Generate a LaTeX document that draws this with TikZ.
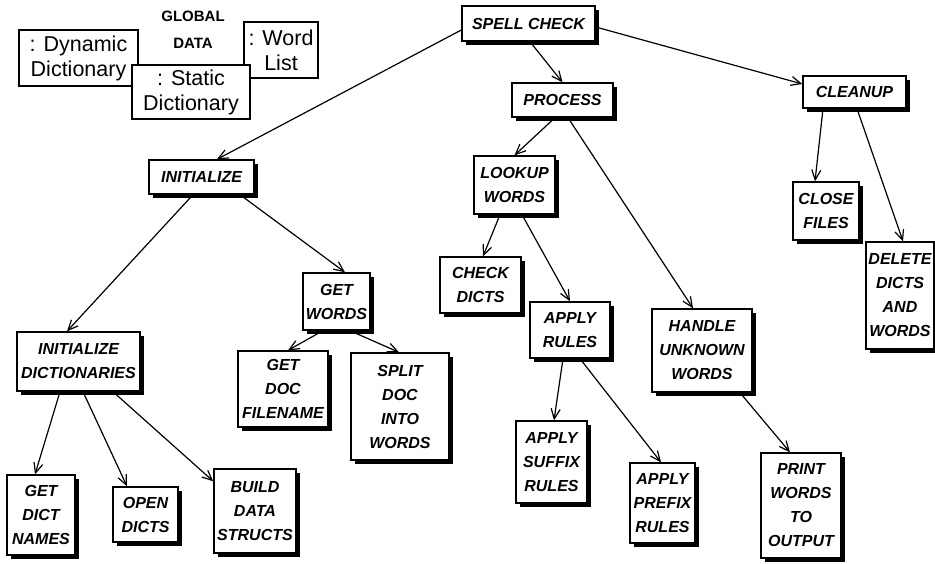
\documentclass[tikz,border=0pt]{standalone}
\usepackage{fontspec}
\setmainfont{Liberation Sans}
\usetikzlibrary{shadows,calc,arrows.meta,backgrounds}
\newcommand\procfont{\fontsize{16}{24}\selectfont\bfseries\itshape}
\newcommand\gfont{\fontsize{21.5}{25}\selectfont}
\tikzset{
  proc/.style={draw, line width=1.4pt, fill=white, inner sep=0pt, align=center, font=\procfont,
    drop shadow={shadow xshift=4pt, shadow yshift=-4pt, fill=black, opacity=1}},
  gbox/.style={draw, line width=1.4pt, fill=white, inner sep=0pt, align=center, font=\gfont},
  glabel/.style={inner sep=0pt, font=\fontsize{15}{16}\selectfont\bfseries},
  arr/.style={line width=1.2pt, -{Straight Barb[length=10pt,width=9pt]}}
}
\begin{document}
\begin{tikzpicture}[x=1pt,y=-1pt]
\useasboundingbox (0,0) rectangle (935,563);
% global data
\node[glabel] (glob) at (193,16) {GLOBAL};
\node[glabel] (gdata) at (193,43) {DATA};
\node[gbox, minimum width=119pt, minimum height=56pt] (dyn) at (78.5,58) {: Dynamic\\Dictionary};
\node[gbox, minimum width=74pt, minimum height=56pt] (wl) at (281,50) {: Word\\List};
\node[gbox, minimum width=118pt, minimum height=54pt] (stat) at (191,92) {: Static\\Dictionary};
% process boxes
\node[proc, minimum width=133pt, minimum height=35pt] (spell) at (528.5,23.5) {SPELL CHECK};
\node[proc, minimum width=101pt, minimum height=34pt] (process) at (562.5,100) {PROCESS};
\node[proc, minimum width=103pt, minimum height=32pt] (cleanup) at (854.5,92) {CLEANUP};
\node[proc, minimum width=105pt, minimum height=34pt] (init) at (201.5,177) {INITIALIZE};
\node[proc, minimum width=123pt, minimum height=59pt] (initdict) at (78.5,361.5) {INITIALIZE\\DICTIONARIES};
\node[proc, minimum width=68pt, minimum height=80pt] (getdict) at (41,515) {GET\\DICT\\NAMES};
\node[proc, minimum width=65pt, minimum height=55pt] (open) at (145.5,514.5) {OPEN\\DICTS};
\node[proc, minimum width=82pt, minimum height=84pt] (build) at (255,511) {BUILD\\DATA\\STRUCTS};
\node[proc, minimum width=67pt, minimum height=57pt] (getwords) at (336.5,301.5) {GET\\WORDS};
\node[proc, minimum width=90pt, minimum height=76pt] (getdoc) at (283,389) {GET\\DOC\\FILENAME};
\node[proc, minimum width=98pt, minimum height=107pt] (split) at (400,406.5) {SPLIT\\DOC\\INTO\\WORDS};
\node[proc, minimum width=81pt, minimum height=58pt] (lookup) at (514.5,185) {LOOKUP\\WORDS};
\node[proc, minimum width=81pt, minimum height=56pt] (check) at (480.5,285) {CHECK\\DICTS};
\node[proc, minimum width=80pt, minimum height=56pt] (apply) at (570,330) {APPLY\\RULES};
\node[proc, minimum width=100pt, minimum height=83pt] (handle) at (702,350.5) {HANDLE\\UNKNOWN\\WORDS};
\node[proc, minimum width=71pt, minimum height=82pt] (suffix) at (551.5,462) {APPLY\\SUFFIX\\RULES};
\node[proc, minimum width=65pt, minimum height=80pt] (prefix) at (662.5,503) {APPLY\\PREFIX\\RULES};
\node[proc, minimum width=66pt, minimum height=58pt] (close) at (826,211) {CLOSE\\FILES};
\node[proc, minimum width=68pt, minimum height=107pt] (delete) at (900,295.5) {DELETE\\DICTS\\AND\\WORDS};
\node[proc, minimum width=80pt, minimum height=105pt] (print) at (801,505.5) {PRINT\\WORDS\\TO\\OUTPUT};
% connectors
\begin{pgfonlayer}{background}
\draw[arr] ($(spell.west)+(0,6.5)$) -- ($(init.north)+(15.5,0)$);
\draw[arr] ($(spell.south)+(1.5,0)$) -- (process.north);
\draw[arr] ($(spell.east)+(0,3.5)$) -- ($(cleanup.west)+(0,-8)$);
\draw[arr] ($(process.south)+(-7.5,0)$) -- (lookup.north);
\draw[arr] ($(process.south)+(5.5,0)$) -- ($(handle.north)+(-9,0)$);
\draw[arr] ($(lookup.south)+(-14.5,0)$) -- ($(check.north)+(2.5,0)$);
\draw[arr] ($(lookup.south)+(7.5,0)$) -- (apply.north);
\draw[arr] ($(apply.south)+(-7,0)$) -- ($(suffix.north)+(2.5,0)$);
\draw[arr] ($(apply.south)+(10,0)$) -- ($(prefix.north)+(-1.5,0)$);
\draw[arr] ($(handle.south)+(38,0)$) -- ($(print.north)+(-11,0)$);
\draw[arr] ($(cleanup.south)+(-31.5,0)$) -- ($(close.north)+(-11,0)$);
\draw[arr] ($(cleanup.south)+(2.5,0)$) -- ($(delete.north)+(3,0)$);
\draw[arr] ($(init.south)+(-8.5,0)$) -- ($(initdict.north)+(-11.5,0)$);
\draw[arr] ($(init.south)+(38.5,0)$) -- ($(getwords.north)+(8.5,0)$);
\draw[arr] ($(initdict.south)+(-18.5,0)$) -- ($(getdict.north)+(-6,0)$);
\draw[arr] ($(initdict.south)+(4.5,0)$) -- ($(open.north)+(-18.5,0)$);
\draw[arr] ($(initdict.south)+(34.5,0)$) -- ($(build.north west)+(0,13)$);
\draw[arr] ($(getwords.south)+(-13.5,0)$) -- ($(getdoc.north)+(5,0)$);
\draw[arr] ($(getwords.south)+(13.5,0)$) -- ($(split.north)+(-1,0)$);
\end{pgfonlayer}
\end{tikzpicture}
\end{document}
